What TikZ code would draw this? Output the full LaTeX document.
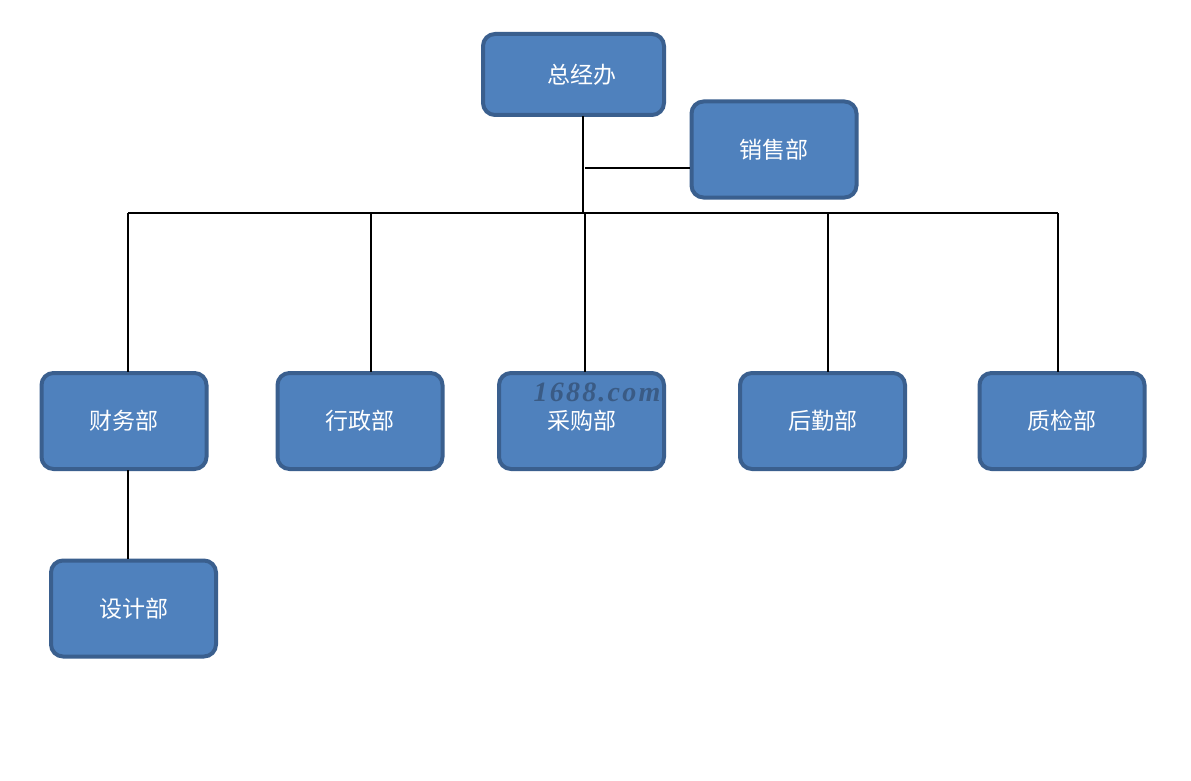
\documentclass[tikz,border=0pt]{standalone}
\usepackage{fontspec}
\newfontfamily\cjk{Noto Sans CJK SC}
\newfontfamily\wm[LetterSpace=8]{Liberation Serif}
\definecolor{boxfill}{HTML}{4F81BD}
\definecolor{boxline}{HTML}{3A5F8E}
\definecolor{wmcol}{HTML}{2C4260}
\begin{document}
\begin{tikzpicture}[x=1pt,y=-1pt,
  dept/.style={draw=boxline,fill=boxfill,line width=4pt,rounded corners=12pt,
    minimum width=165pt,minimum height=96pt,inner sep=0pt,text=white,
    font=\cjk\fontsize{23}{23}\selectfont},
  conn/.style={draw=black,line width=1.8pt}]
\useasboundingbox (0,0) rectangle (1191,781);
\fill[white] (0,0) rectangle (1191,781);
% boxes
\node[dept,minimum width=181pt,minimum height=81pt] (zjb) at (573.5,74.5) {\hspace*{17pt}总经办};
\node[dept] (xsb) at (774,149.5) {销售部};
\node[dept] (cwb) at (124,421) {财务部};
\node[dept] (xzb) at (360,421) {行政部};
\node[dept] (cgb) at (581.5,421) {采购部};
\node[dept] (hqb) at (822.5,421) {后勤部};
\node[dept] (zjianb) at (1062,421) {质检部};
\node[dept] (sjb) at (133.5,608.5) {设计部};
% connectors
\coordinate (j) at (583,213);
\coordinate (jl) at (128,213);
\coordinate (jr) at (1058,213);
\coordinate (k) at (585,168);
\draw[conn] (583,116.5) -- (j);
\draw[conn] (k) -- (xsb.west |- k);
\draw[conn] (jl) -- (jr);
\draw[conn] (jl) -- (128,372);
\draw[conn] (371,213) -- (371,372);
\draw[conn] (585,213) -- (585,372);
\draw[conn] (828,213) -- (828,372);
\draw[conn] (jr) -- (1058,372);
\draw[conn] (128,470) -- (128,559);
% watermark
\node[text=wmcol,opacity=0.6,font=\wm\bfseries\itshape\fontsize{28}{28}\selectfont] (wm) at (597,392) {1688.com};
\end{tikzpicture}
\end{document}
